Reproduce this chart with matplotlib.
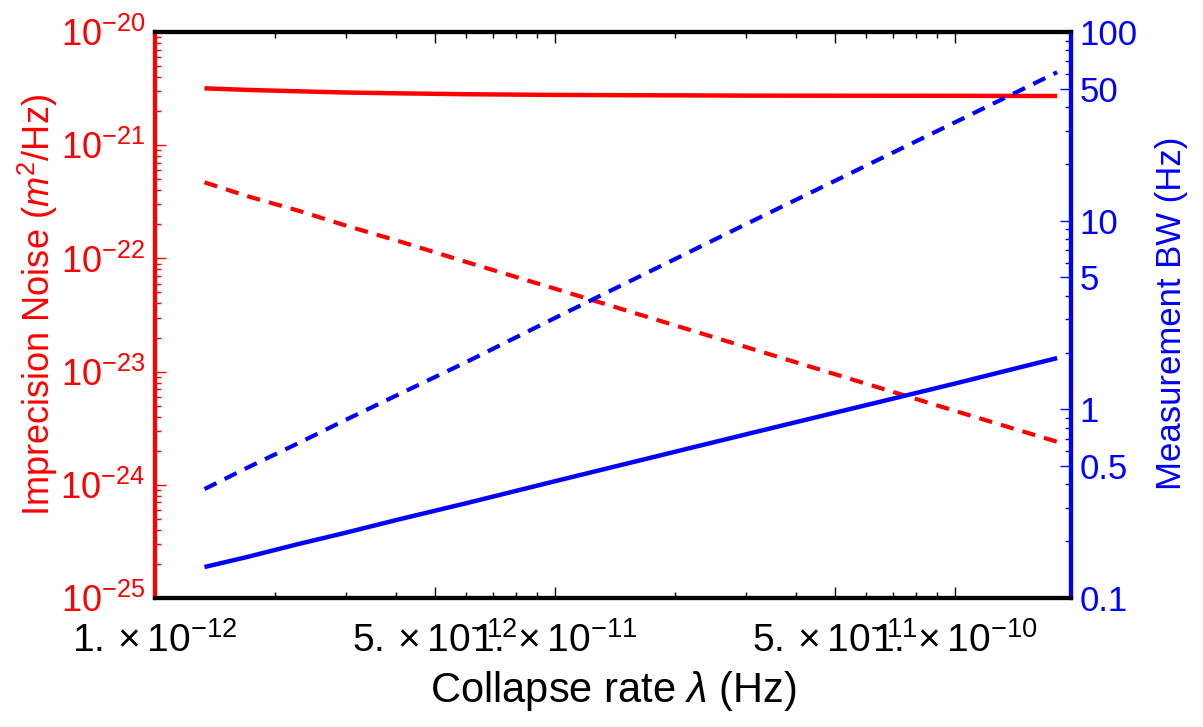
import matplotlib
matplotlib.use('Agg')
import matplotlib.pyplot as plt
from matplotlib.ticker import LogLocator, NullFormatter, FixedLocator, FixedFormatter

plt.rcParams['font.family'] = ['Liberation Sans', 'DejaVu Sans']
plt.rcParams['mathtext.fontset'] = 'custom'
plt.rcParams['mathtext.rm'] = 'Liberation Sans'
plt.rcParams['mathtext.it'] = 'Liberation Sans:italic'

# collapse rate (Hz)
lam = [1.33e-12, 1.7e-12, 2.3e-12, 3.0e-12, 4.1e-12, 6.0e-12, 1.0e-11, 3.16e-11, 1.0e-10, 1.8e-10]

# imprecision noise (m^2/Hz), left axis
noise_solid = [3.18e-21, 3.08e-21, 2.99e-21, 2.92e-21, 2.87e-21, 2.82e-21, 2.78e-21,
               2.74e-21, 2.73e-21, 2.72e-21]
noise_dashed = [4.7e-22, 3.55e-22, 2.62e-22, 1.95e-22, 1.41e-22, 9.3e-23, 5.4e-23,
                1.56e-23, 4.5e-24, 2.4e-24]

# measurement bandwidth (Hz), right axis
bw_solid = [0.146, 0.165, 0.194, 0.222, 0.262, 0.318, 0.416, 0.757, 1.37, 1.87]
bw_dashed = [0.378, 0.49, 0.667, 0.88, 1.21, 1.78, 3.05, 10.1, 33.2, 61.2]

xticks = [1e-12, 5e-12, 1e-11, 5e-11, 1e-10]
xticklabels = [r'$1.\times10^{-12}$', r'$5.\times10^{-12}$', r'$1.\times10^{-11}$',
               r'$5.\times10^{-11}$', r'$1.\times10^{-10}$']
yticks_right = [0.1, 0.5, 1, 5, 10, 50, 100]
yticklabels_right = ['0.1', '0.5', '1', '5', '10', '50', '100']

red = '#FF0000'
blue = '#0000FF'

fig = plt.figure(figsize=(12.03, 7.27), dpi=100)
ax = fig.add_axes([0.1288, 0.1774, 0.7615, 0.7786])
ax2 = ax.twinx()

ax.plot(lam, noise_solid, color=red, lw=3.2, solid_capstyle='butt')
ax.plot(lam, noise_dashed, color=red, lw=3, dashes=(3.2, 2.2), dash_capstyle='butt')
ax2.plot(lam, bw_solid, color=blue, lw=3.2, solid_capstyle='butt')
ax2.plot(lam, bw_dashed, color=blue, lw=3, dashes=(3.2, 2.2), dash_capstyle='butt')

ax.set_xscale('log')
ax.set_yscale('log')
ax2.set_yscale('log')
ax.set_xlim(1e-12, 1.95e-10)
ax.set_ylim(1e-25, 1e-20)
ax2.set_ylim(0.1, 100)

ax.xaxis.set_major_locator(FixedLocator(xticks))
ax.xaxis.set_major_formatter(FixedFormatter(xticklabels))
ax.xaxis.set_minor_locator(LogLocator(base=10, subs=range(2, 10), numticks=20))
ax.xaxis.set_minor_formatter(NullFormatter())

ax.yaxis.set_major_locator(LogLocator(base=10, numticks=10))
ax.yaxis.set_minor_locator(LogLocator(base=10, subs=range(2, 10), numticks=20))
ax.yaxis.set_minor_formatter(NullFormatter())

ax2.yaxis.set_major_locator(FixedLocator(yticks_right))
ax2.yaxis.set_major_formatter(FixedFormatter(yticklabels_right))
ax2.yaxis.set_minor_locator(LogLocator(base=10, subs=range(2, 10), numticks=20))
ax2.yaxis.set_minor_formatter(NullFormatter())

for a in (ax, ax2):
    for side in a.spines:
        a.spines[side].set_linewidth(3)
        a.spines[side].set_color('black')
    a.spines['left'].set_color(red)
    a.spines['right'].set_color(blue)

ax.tick_params(axis='x', which='both', direction='in', top=True, colors='black',
               labelsize=28, pad=17)
ax.tick_params(axis='x', which='major', length=8, width=1)
ax.tick_params(axis='x', which='minor', length=4.5, width=1)
ax.tick_params(axis='y', which='both', direction='in', left=True, right=False,
               colors=red, labelsize=26, pad=7)
ax.tick_params(axis='y', which='major', length=8, width=1)
ax.tick_params(axis='y', which='minor', length=4.5, width=1)
ax2.tick_params(axis='y', which='both', direction='in', colors=blue, labelsize=25, pad=6)
ax2.tick_params(axis='y', which='major', length=8, width=1)
ax2.tick_params(axis='y', which='minor', length=4.5, width=1)

ax.set_xlabel(r'Collapse rate $\mathit{\lambda}$ (Hz)', fontsize=30)
ax.set_ylabel(r'Imprecision Noise ($m^2$/Hz)', fontsize=26, color=red)
ax2.set_ylabel('Measurement BW (Hz)', fontsize=25, color=blue)
ax.xaxis.set_label_coords(0.5, -0.125)
ax.yaxis.set_label_coords(-0.104, 0.518)
ax2.yaxis.set_label_coords(1.092, 0.503)

fig.savefig('out.png', dpi=100)
